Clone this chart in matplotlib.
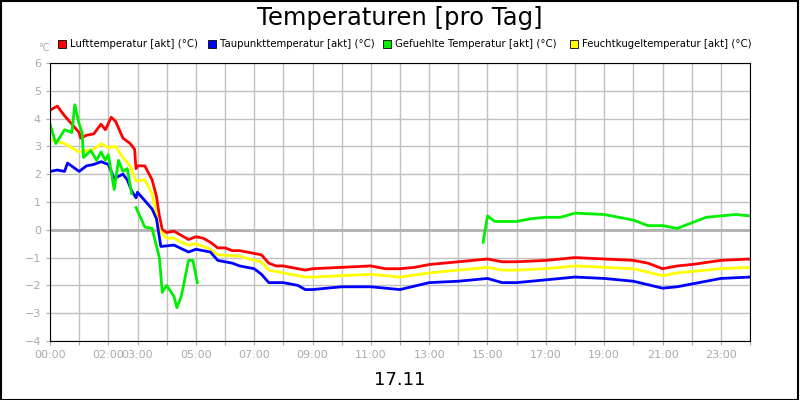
import numpy as np
import matplotlib
matplotlib.use("Agg")
import matplotlib.pyplot as plt
from matplotlib.patches import Rectangle

nan = np.nan
red_t = [0,0.25,0.5,0.75,1.0,1.05,1.25,1.5,1.75,1.9,2.1,2.25,2.5,2.75,2.9,2.95,3.0,3.25,3.5,3.65,3.75,3.85,4.0,4.25,4.5,4.75,5.0,5.25,5.5,5.75,6.0,6.25,6.5,7.0,7.25,7.5,7.75,8.0,8.5,8.75,9.0,10,11,11.5,12,12.5,13,14,14.5,15,15.5,16,17,18,19,20,20.5,21,21.5,22,23,24]
red_v = [4.3,4.45,4.1,3.8,3.5,3.3,3.4,3.45,3.8,3.6,4.05,3.9,3.3,3.1,2.9,2.2,2.3,2.3,1.8,1.2,0.5,0.0,-0.1,-0.05,-0.2,-0.35,-0.25,-0.3,-0.45,-0.65,-0.65,-0.75,-0.75,-0.85,-0.9,-1.2,-1.3,-1.3,-1.4,-1.45,-1.4,-1.35,-1.3,-1.4,-1.4,-1.35,-1.25,-1.15,-1.1,-1.05,-1.15,-1.15,-1.1,-1.0,-1.05,-1.1,-1.2,-1.4,-1.3,-1.25,-1.1,-1.05]

yel_t = [0,0.5,1.0,1.5,1.75,2.0,2.25,2.5,2.75,2.95,3.25,3.5,3.75,4.0,4.25,4.5,4.75,5.0,5.5,5.75,6.5,7.0,7.25,7.5,8.0,8.75,9.0,10,11,12,13,14,15,15.5,16,17,18,19,20,21,21.5,22,23,24]
yel_v = [3.25,3.1,2.8,2.9,3.1,2.95,3.0,2.6,2.3,1.75,1.8,1.3,0.0,-0.3,-0.3,-0.45,-0.55,-0.5,-0.7,-0.9,-0.95,-1.1,-1.15,-1.45,-1.55,-1.7,-1.7,-1.65,-1.6,-1.7,-1.55,-1.45,-1.35,-1.45,-1.45,-1.4,-1.3,-1.35,-1.4,-1.65,-1.55,-1.5,-1.4,-1.35]

blu_t = [0,0.25,0.5,0.6,1.0,1.25,1.5,1.75,2.0,2.2,2.5,2.65,2.8,2.95,3.0,3.25,3.5,3.65,3.8,4.25,4.75,5.0,5.5,5.75,6.25,6.5,7.0,7.25,7.5,8.0,8.5,8.75,9,10,11,12,13,14,15,15.5,16,17,18,19,20,21,21.5,22,23,24]
blu_v = [2.1,2.15,2.1,2.4,2.1,2.3,2.35,2.45,2.35,1.85,2.0,1.8,1.4,1.15,1.35,1.05,0.75,0.4,-0.6,-0.55,-0.8,-0.7,-0.8,-1.1,-1.2,-1.3,-1.4,-1.6,-1.9,-1.9,-2.0,-2.15,-2.15,-2.05,-2.05,-2.15,-1.9,-1.85,-1.75,-1.9,-1.9,-1.8,-1.7,-1.75,-1.85,-2.1,-2.05,-1.95,-1.75,-1.7]

grn_t = [0,0.2,0.5,0.75,0.85,1.0,1.1,1.15,1.4,1.6,1.75,1.9,2.0,2.2,2.35,2.5,2.65,2.8,2.87,
         2.95,3.25,3.5,3.75,3.85,4.0,4.25,4.35,4.5,4.75,4.9,5.05,10,
         14.85,15.0,15.25,16,16.5,17,17.5,18,19,19.5,20,20.5,21,21.5,22,22.5,23,23.5,24]
grn_v = [3.8,3.1,3.6,3.5,4.5,3.8,3.5,2.6,2.85,2.5,2.8,2.5,2.7,1.45,2.5,2.1,2.2,1.3,nan,
         0.8,0.1,0.05,-1.0,-2.25,-2.0,-2.4,-2.8,-2.4,-1.1,-1.1,-1.9,nan,
         -0.45,0.5,0.3,0.3,0.4,0.45,0.45,0.6,0.55,0.45,0.35,0.15,0.15,0.05,0.25,0.45,0.5,0.55,0.5]

xtick_pos = [0,2,3,5,7,9,11,13,15,17,19,21,23]
xtick_lab = ["00:00","02:00","03:00","05:00","07:00","09:00","11:00","13:00","15:00","17:00","19:00","21:00","23:00"]

series = [("Lufttemperatur [akt] (°C)", "#ff0000", red_t, red_v),
          ("Taupunkttemperatur [akt] (°C)", "#0000ff", blu_t, blu_v),
          ("Gefuehlte Temperatur [akt] (°C)", "#00ee00", grn_t, grn_v),
          ("Feuchtkugeltemperatur [akt] (°C)", "#ffff00", yel_t, yel_v)]

fig = plt.figure(figsize=(8, 4), dpi=100)
fig.patches.append(Rectangle((0.001, 0.001), 0.997, 0.997, transform=fig.transFigure,
                             fill=False, edgecolor="black", linewidth=1.5))
ax = fig.add_axes([50/800, 1-341/400, 700/800, 278/400])
ax.set_xlim(0, 24)
ax.set_ylim(-4, 6)
ax.set_xticks(range(0, 25))
ax.set_xticklabels([xtick_lab[xtick_pos.index(h)] if h in xtick_pos else "" for h in range(25)])
ax.set_yticks(range(-4, 7))
ax.grid(True, color="#c0c0c0", linewidth=1)
ax.axhline(0, color="#b0b0b0", linewidth=2)
ax.tick_params(colors="#aaaaaa", labelsize=8, length=3)
for sp in ax.spines.values():
    sp.set_color("black")
for i in [0, 3, 1, 2]:
    name, col, t, v = series[i]
    ax.plot(t, v, color=col, linewidth=2.0)

fig.text(0.5, 1-18/400, "Temperaturen [pro Tag]", ha="center", va="center", fontsize=17.5)
fig.text(0.5, 1-380/400, "17.11", ha="center", va="center", fontsize=13)
fig.text(38/800, 1-48/400, "°C", ha="left", va="center", fontsize=7, color="#aaaaaa")
xs = [58, 208, 383, 570]
for (name, col, t, v), x in zip(series, xs):
    fig.patches.append(Rectangle((x/800, 1-48/400), 8/800, 8/400, transform=fig.transFigure,
                                 facecolor=col, edgecolor="black", linewidth=0.6))
    fig.text((x+12)/800, 1-44/400, name, ha="left", va="center", fontsize=7.3)

fig.savefig("out.png", dpi=100)
